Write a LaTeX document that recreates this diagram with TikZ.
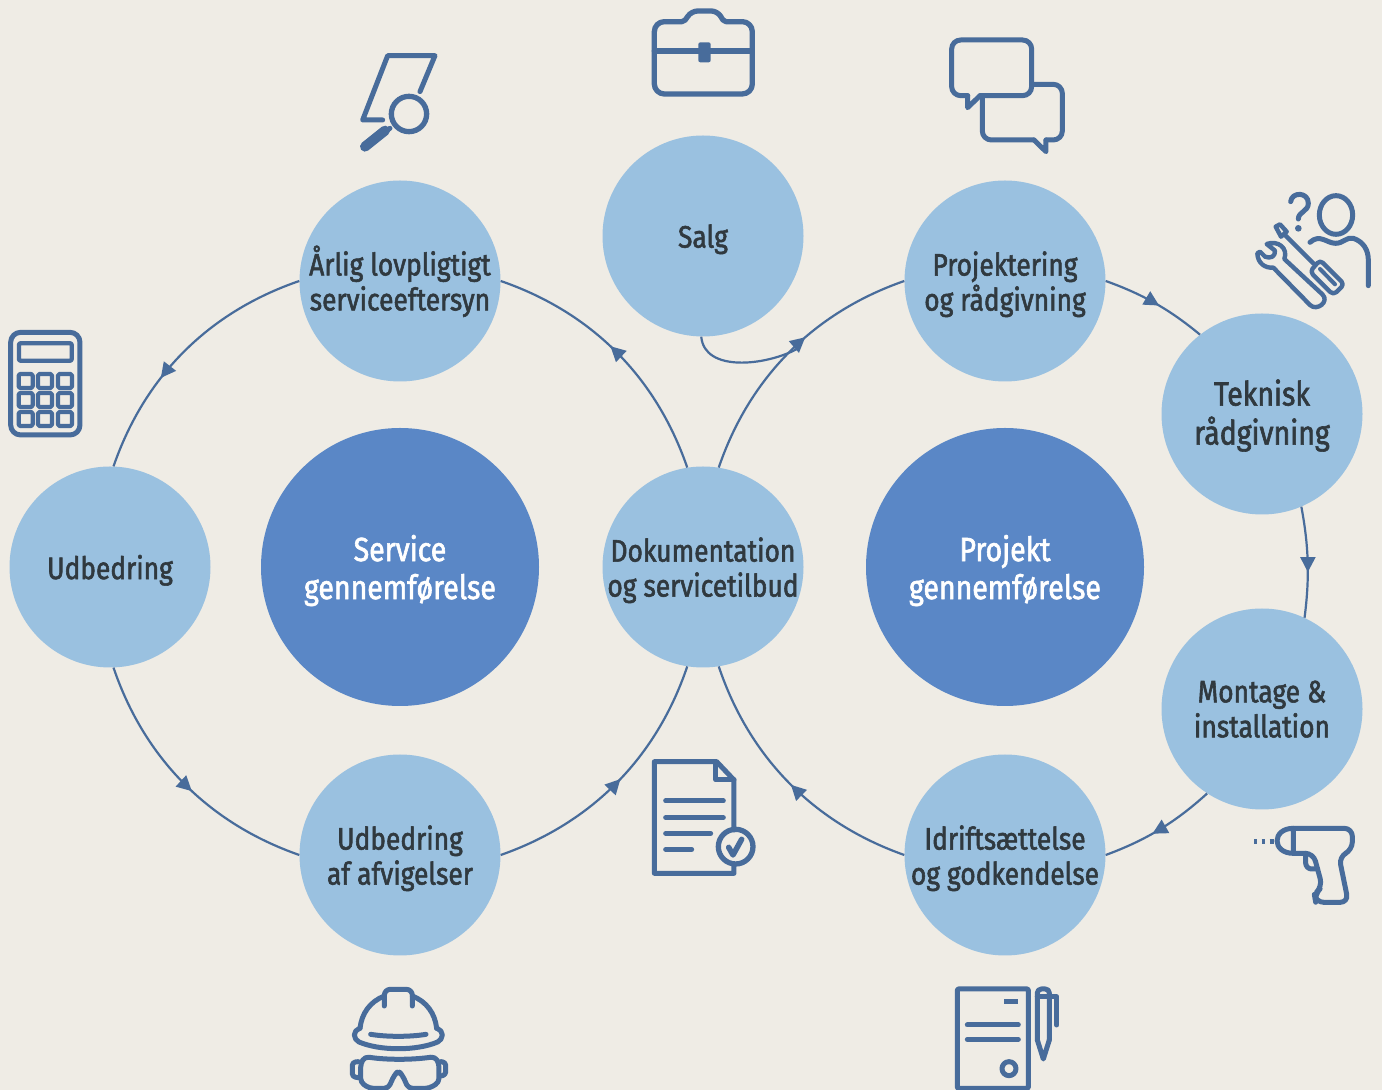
\documentclass[tikz,border=0pt]{standalone}
\usepackage{fontspec}
\setmainfont{Fira Sans}[FakeStretch=0.85,FakeBold=1.8]
\usetikzlibrary{arrows.meta,decorations.markings}
\definecolor{bgc}{HTML}{EFECE5}
\definecolor{stepc}{HTML}{9AC1E0}
\definecolor{bigc}{HTML}{5A87C6}
\definecolor{linec}{HTML}{486C9B}
\definecolor{textc}{HTML}{30393F}
\tikzset{
  stepnode/.style={circle,fill=stepc,minimum size=201pt,inner sep=0pt,align=center,text=textc,text depth=0pt,font=\fontsize{31}{35}\selectfont},
  wide/.style={font=\fontsize{33.5}{39}\selectfont},
  bignode/.style={circle,fill=bigc,minimum size=278pt,inner sep=0pt,align=center,text=white,text depth=0pt,font=\fontsize{33.5}{38}\selectfont},
  conn/.style={draw=linec,line width=2.2pt},
  tipat/.style={postaction={decorate},decoration={markings,mark=at position #1 with {\arrow{Triangle[length=15pt,width=15pt]}}}},
  icon/.style={draw=linec,line width=5pt,line cap=round,line join=round},
  iconarea/.style={shift={(#1)},x=0.3333pt,y=-0.3333pt}
}
\begin{document}
\begin{tikzpicture}[x=1pt,y=1pt]
\useasboundingbox (0,0) rectangle (1382,1090);
\fill[bgc] (0,0) rectangle (1382,1090);
% nodes
\node[bignode] (service) at (400,523) {Service\\gennemførelse};
\node[bignode] (projekt) at (1005,523) {Projekt\\gennemførelse};
\node[stepnode] (udb) at (110,523) {Udbedring};
\node[stepnode,text depth=6pt] (arlig) at (400,809) {Årlig lovpligtigt\\serviceeftersyn};
\node[stepnode] (salg) at (703,854) {Salg};
\node[stepnode] (dok) at (703,523) {Dokumentation\\og servicetilbud};
\node[stepnode] (afv) at (400,235) {Udbedring\\af afvigelser};
\node[stepnode] (proj) at (1005,809) {Projektering\\og rådgivning};
\node[stepnode,wide,text depth=4pt] (tek) at (1262,676) {Teknisk\\rådgivning};
\node[stepnode] (mon) at (1262,381) {Montage \&\\installation};
\node[stepnode] (idr) at (1005,235) {Idriftsættelse\\og godkendelse};
\coordinate (join) at (797,741);
% connectors
\tikzset{looseness=.93}
\draw[conn,tipat=.53] (dok.99) to[bend right=26] (arlig.0);
\draw[conn,tipat=.63] (arlig.180) to[bend right=26] (udb.88);
\draw[conn,tipat=.54] (udb.-88) to[bend right=26] (afv.180);
\draw[conn,tipat=.52] (afv.0) to[bend right=26] (dok.-99);
\draw[conn,tipat=.58] (dok.81) to[bend left=26] (proj.180);
\draw[conn,tipat=.54] (proj.0) to[bend left=10] (tek.128);
\draw[conn,tipat=.59] (tek.-67) to[bend left=9] (mon.65);
\draw[conn,tipat=.57] (mon.-123) to[bend left=11] (idr.0);
\draw[conn,tipat=.49] (idr.180) to[bend left=26] (dok.-81);
\draw[conn] (salg.-91) to[out=-85,in=208,looseness=.95] (join);
% magnifier
\begin{scope}[iconarea={340,1050}]
\draw[icon] (240,155) -- (285,47) -- (143,47) -- (68,240) -- (128,240);
\draw[icon,line width=5.3pt] (207,222) circle[radius=53];
\draw[icon] (150,265) -- (130,278);
\draw[icon,line width=10pt] (135,272) -- (75,320);
\end{scope}
% briefcase
\begin{scope}[iconarea={640,1090}]
\draw[icon,line width=5.3pt,rounded corners=10pt] (43,153) -- (43,65) [rounded corners=2pt] -- (132,65) [rounded corners=6pt] -- (155,33) -- (232,33) [rounded corners=2pt] -- (252,65) [rounded corners=10pt] -- (337,65) -- (337,282) -- (43,282) -- cycle;
\draw[icon,line width=5.3pt] (43,153) -- (337,153);
\fill[linec,rounded corners=2pt] (175,127) rectangle (212,187);
\end{scope}
% chat
\begin{scope}[iconarea={940,1060}]
\draw[icon,rounded corners=9pt] (83,197) -- (35,197) -- (35,30) -- (275,30) -- (275,197) -- (120,197);
\draw[icon] (83,197) -- (83,233) -- (120,197);
\draw[icon,rounded corners=9pt] (275,163) -- (367,163) -- (367,330) -- (318,330);
\draw[icon] (318,330) -- (318,365) -- (282,330);
\draw[icon,rounded corners=9pt] (282,330) -- (127,330) -- (127,197);
\end{scope}
% person with tools
\begin{scope}[iconarea={1245,905}]
\draw[icon] (273,90) ellipse[x radius=50,y radius=58];
\draw[icon] (195,172) .. controls (225,145) and (245,175) .. (272,175) .. controls (295,175) and (305,155) .. (325,160) .. controls (355,170) and (370,195) .. (370,225) -- (370,302);
\draw[icon] (137,50) .. controls (140,20) and (190,20) .. (190,55) .. controls (190,80) and (160,80) .. (160,102);
\fill[linec] (160,130) circle[radius=10];
\draw[icon,line width=4.4pt] (92,125) -- (105,118) -- (125,140) -- (108,155) -- cycle;
\draw[icon,line width=4.4pt] (118,148) -- (205,235);
\draw[icon,line width=4.4pt,rounded corners=4pt] (225,225) -- (298,298) -- (265,330) -- (195,260) -- cycle;
\draw[icon,line width=4pt] (225,252) -- (270,298);
\draw[icon,line width=4.4pt] (37,205) .. controls (38,235) and (60,250) .. (85,248) -- (195,360) .. controls (215,380) and (255,350) .. (232,328) -- (118,222) .. controls (130,190) and (100,165) .. (65,177) -- (90,197) .. controls (92,215) and (75,222) .. (60,215) -- (45,200) -- cycle;
\end{scope}
% calculator
\begin{scope}[iconarea={0,765}]
\draw[icon,rounded corners=10pt] (32,22) rectangle (240,330);
\draw[icon,line width=4.2pt,rounded corners=1pt] (57,55) rectangle (215,107);
\foreach \cx in {77,135,195}{\foreach \cy in {168,225,282}{
  \draw[icon,line width=4.2pt,rounded corners=1.5pt] (\cx-21,\cy-21) rectangle (\cx+21,\cy+21);
}}
\end{scope}
% document with check
\begin{scope}[iconarea={640,340}]
\draw[icon] (282,240) -- (282,90) -- (230,35) -- (43,35) -- (43,370) -- (282,370) -- (282,345);
\draw[icon] (228,35) -- (228,90) -- (282,90);
\draw[icon] (77,153) -- (250,153);
\draw[icon] (77,203) -- (250,203);
\draw[icon] (77,250) -- (212,250);
\draw[icon] (77,298) -- (155,298);
\draw[icon,line width=5.3pt] (287,290) circle[radius=52];
\draw[icon,line width=5.5pt] (266,292) -- (279,315) -- (305,268);
\end{scope}
% drill
\begin{scope}[iconarea={1245,275}]
\draw[icon,rounded corners=8pt] (145,40) -- (322,40) -- (322,105) -- (282,125) -- (310,262) -- (212,262) -- (208,238) -- (232,215) -- (205,115) -- (145,115);
\draw[icon] (145,115) .. controls (80,115) and (80,40) .. (145,40) -- (145,115);
\draw[icon,rounded corners=6pt] (182,115) -- (182,162) -- (218,162);
\draw[icon,line width=4.5pt,line cap=butt] (28,80) -- (36,80) (50,80) -- (60,80) (74,80) -- (86,80);
\end{scope}
% contract with pen
\begin{scope}[iconarea={945,115}]
\draw[icon,rounded corners=1pt] (37,42) rectangle (250,340);
\fill[linec] (178,72) rectangle (218,86);
\draw[icon] (67,150) -- (220,150);
\draw[icon] (67,193) -- (220,193);
\draw[icon] (192,281) circle[radius=21];
\draw[icon,rounded corners=4pt] (277,195) -- (277,42) -- (313,42) -- (313,195);
\draw[icon] (277,195) -- (295,252) -- (313,195);
\draw[icon] (277,65) -- (313,65);
\draw[icon] (313,65) -- (335,65) -- (335,150);
\end{scope}
% helmet and goggles
\begin{scope}[iconarea={340,115}]
\draw[icon,rounded corners=6pt] (133,93) -- (133,43) -- (217,43) -- (217,93);
\draw[icon] (133,63) .. controls (90,80) and (65,115) .. (60,160);
\draw[icon] (217,63) .. controls (260,80) and (285,115) .. (290,160);
\draw[icon,rounded corners=5pt] (60,160) -- (43,165) -- (43,195) .. controls (120,228) and (230,228) .. (307,195) -- (307,165) -- (290,160);
\draw[icon] (92,178) .. controls (140,186) and (210,186) .. (258,178);
\draw[icon,rounded corners=4pt] (62,265) -- (75,245) .. controls (140,255) and (215,255) .. (285,245) -- (297,265) -- (297,322) -- (268,340) -- (205,340) -- (187,300) -- (175,288) -- (163,300) -- (145,340) -- (88,340) -- (62,322) -- cycle;
\draw[icon,rounded corners=3pt] (55,260) -- (37,262) -- (37,305) -- (55,308);
\draw[icon,rounded corners=3pt] (302,260) -- (317,262) -- (317,300) -- (302,303);
\end{scope}
\end{tikzpicture}
\end{document}
